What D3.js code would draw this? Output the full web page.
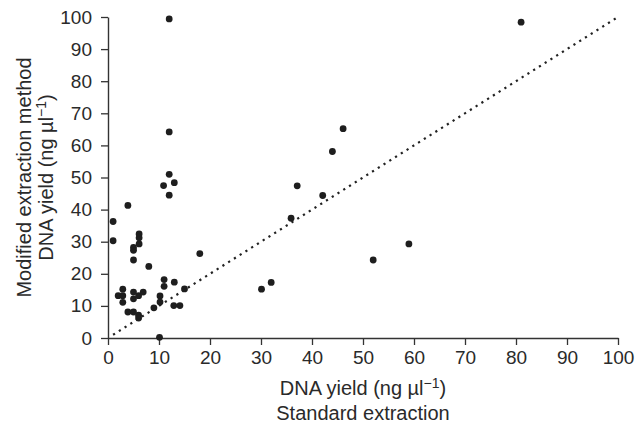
<!DOCTYPE html>
<html>
<head>
<meta charset="utf-8">
<script src="https://cdn.jsdelivr.net/npm/d3@7"></script>
<style>
  body { margin: 0; background: #fff; }
  text { font-family: "Liberation Sans", Arial, sans-serif; fill: #2a2a2a; }
</style>
</head>
<body>
<svg width="636" height="423"></svg>
<script>
// standard extraction yield (x) vs modified extraction yield (y), ng/ul
var standard = [1, 1, 2, 2.9, 2.9, 2.9, 3.9, 3.9, 5, 5, 5, 5, 5, 5, 6.1, 6.1, 6.1, 6, 6, 6,
    6.9, 8, 9, 10.2, 10.2, 10.1, 10.9, 11, 11, 12, 12, 12, 12, 13, 13, 12.9, 14.1, 15, 18,
    30.1, 32, 35.9, 37.1, 42.1, 44, 46.1, 52, 59, 81];
var modified = [36.3, 30.3, 13.2, 15.2, 13.2, 11.1, 41.3, 8.1, 28.2, 27.3, 24.3, 14.3, 12.2, 8.1, 32.4, 31.2, 29.3, 13.2, 7.1, 6.2,
    14.3, 22.3, 9.4, 13.1, 11.2, 0.2, 47.5, 18.2, 16.1, 99.4, 64.2, 51, 44.5, 48.4, 17.4, 10.1, 10.1, 15.3, 26.3,
    15.2, 17.3, 37.3, 47.4, 44.4, 58.1, 65.2, 24.3, 29.3, 98.4];
var xTicks = [0, 10, 20, 30, 40, 50, 60, 70, 80, 90, 100];
var yTicks = [0, 10, 20, 30, 40, 50, 60, 70, 80, 90, 100];
var refLine = [1, 100];

var svg = d3.select("svg");
var plotLeft = 108, plotRight = 618, plotTop = 17, plotBottom = 338;

var x = d3.scaleLinear().domain([0, 100]).range([plotLeft, plotRight]);
var y = d3.scaleLinear().domain([0, 100]).range([plotBottom, plotTop]);

var xAxis = svg.append("g")
    .attr("transform", "translate(0," + plotBottom + ")")
    .call(d3.axisBottom(x).tickValues(xTicks).tickSize(7).tickPadding(6).tickSizeOuter(0));
var yAxis = svg.append("g")
    .attr("transform", "translate(" + plotLeft + ",0)")
    .call(d3.axisLeft(y).tickValues(yTicks).tickSize(7).tickPadding(9).tickSizeOuter(0));

[xAxis, yAxis].forEach(function(a){
    a.select(".domain").attr("stroke", "#333").attr("stroke-width", 1.4);
    a.selectAll(".tick line").attr("stroke", "#333").attr("stroke-width", 1.3);
    a.selectAll(".tick text").attr("font-size", 19).attr("fill", "#2a2a2a")
        .style("font-family", "'Liberation Sans', Arial, sans-serif");
});

// 1:1 reference line
svg.append("line")
    .attr("x1", x(refLine[0])).attr("y1", y(refLine[0]))
    .attr("x2", x(refLine[1])).attr("y2", y(refLine[1]))
    .attr("stroke", "#222")
    .attr("stroke-width", 2.2)
    .attr("stroke-dasharray", "2.2,4.6");

svg.append("g").selectAll("circle")
    .data(standard)
    .enter()
    .append("circle")
    .attr("cx", function(d){ return x(d); })
    .attr("cy", function(d, i){ return y(modified[i]); })
    .attr("r", 3.4)
    .attr("fill", "#1e1e1e");

function unitLabel(t){
    t.append("tspan").text("DNA yield (ng \u00b5l");
    t.append("tspan").attr("font-size", 14).attr("dy", -7).text("\u22121");
    t.append("tspan").attr("dy", 7).text(")");
}

// x title
var cx = (plotLeft + plotRight) / 2;
var xt = svg.append("text").attr("x", cx).attr("y", 395).attr("text-anchor", "middle").attr("font-size", 20);
unitLabel(xt);
svg.append("text").attr("x", cx).attr("y", 420).attr("text-anchor", "middle").attr("font-size", 20)
    .text("Standard extraction");

// y title
var cy = (plotTop + plotBottom) / 2;
svg.append("text").attr("transform", "translate(31," + cy + ") rotate(-90)")
    .attr("text-anchor", "middle").attr("font-size", 20)
    .text("Modified extraction method");
var yt = svg.append("text").attr("transform", "translate(53," + cy + ") rotate(-90)")
    .attr("text-anchor", "middle").attr("font-size", 20);
unitLabel(yt);
</script>
</body>
</html>
